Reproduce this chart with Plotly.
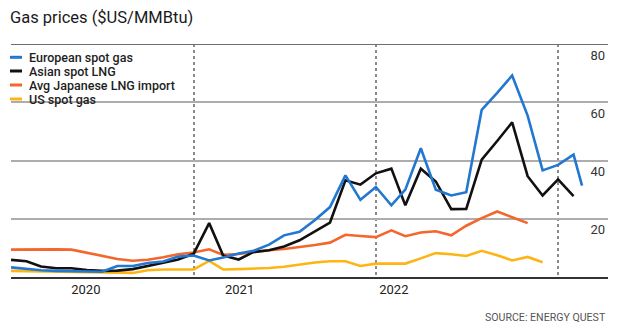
import pandas as pd
import plotly.graph_objects as go

# Monthly observations, first of each month from Jan 2020
months = pd.date_range("2020-01-01", periods=38, freq="MS")

european_spot_gas = [3.3, 2.7, 2.3, 2.1, 2.0, 1.7, 1.8, 3.8, 3.8, 4.8, 5.3, 7.0,
                     7.4, 5.7, 6.7, 8.1, 9.0, 11.1, 14.3, 15.5, 19.6, 24.0, 34.9, 26.5,
                     30.9, 24.6, 30.0, 44.2, 30.0, 28.0, 29.1, 57.4, 63.2, 69.2, 55.4, 36.6,
                     38.5, 42.0, 31.4]
european_dates = list(months) + [pd.Timestamp("2023-02-18")]

asian_spot_lng = [5.9, 5.4, 3.6, 3.0, 3.0, 2.4, 2.1, 2.2, 2.7, 3.9, 4.9, 6.0,
                  8.0, 18.5, 7.4, 6.0, 8.6, 9.2, 10.5, 12.6, 15.6, 18.7, 33.2, 31.7,
                  35.6, 37.2, 24.6, 37.2, 32.8, 23.3, 23.4, 40.3, 46.7, 53.1, 34.6, 28.0,
                  33.5, 27.8]

japanese_lng_import = [9.4, 9.5, 9.6, 9.5, 9.4, 8.4, 7.2, 6.2, 5.6, 5.9, 6.8, 7.8,
                       8.4, 9.5, 7.6, 7.9, 8.5, 9.2, 9.6, 10.2, 11.0, 11.8, 14.5, 14.1,
                       13.7, 16.0, 14.0, 15.3, 15.7, 14.3, 17.6, 20.2, 22.5, 20.5, 18.5]

us_spot_gas = [2.1, 2.0, 1.9, 1.8, 1.8, 1.7, 1.7, 1.5, 1.4, 2.3, 2.6, 2.6,
               2.6, 5.5, 2.6, 2.7, 2.8, 3.1, 3.5, 4.2, 5.0, 5.4, 5.4, 3.8,
               4.6, 4.6, 4.6, 6.4, 8.2, 7.8, 7.2, 9.0, 7.5, 5.7, 6.9, 5.1]

series = [
    ("European spot gas", european_dates, european_spot_gas, "#2277d0"),
    ("Asian spot LNG", list(months), asian_spot_lng, "#111111"),
    ("Avg Japanese LNG import", list(months[:len(japanese_lng_import)]), japanese_lng_import, "#f4662c"),
    ("US spot gas", list(months[:len(us_spot_gas)]), us_spot_gas, "#fdb515"),
]

year_boundaries = ["2020-01-01", "2021-01-01", "2022-01-01", "2023-01-01"]
year_label_dates = ["2020-05-30", "2021-04-03", "2022-02-06"]
year_labels = ["2020", "2021", "2022"]
y_ticks = [20, 40, 60, 80]

W, H = 620, 332
ML, MR, MT, MB = 11, 12, 44, 55
PW, PH = W - ML - MR, H - MT - MB


def paper_x(px):
    return (px - ML) / PW


def paper_y(py):
    return (H - MB - py) / PH


fig = go.Figure()

# Draw order: US, Japanese, Asian, European (European on top)
for name, xs, ys, color in reversed(series):
    fig.add_trace(go.Scatter(x=xs, y=ys, name=name, mode="lines",
                             line=dict(color=color, width=2.6),
                             showlegend=False))

shapes = []
annotations = []

# White patch behind the key
shapes.append(dict(type="rect", xref="paper", yref="y",
                   x0=-0.03, x1=paper_x(105), y0=58.8, y1=79.2,
                   fillcolor="white", line=dict(width=0), layer="between"))

# Dark rule along the top
shapes.append(dict(type="line", xref="paper", yref="y", x0=0, x1=1, y0=80, y1=80,
                   line=dict(color="#6f6f6f", width=2), layer="above"))

# Key entries
key_rows = [57.3, 71, 85, 99]
for (name, _, _, color), ry in zip(series, key_rows):
    shapes.append(dict(type="line", xref="paper", yref="paper",
                       x0=paper_x(10), x1=paper_x(22), y0=paper_y(ry), y1=paper_y(ry),
                       line=dict(color=color, width=3), layer="above"))
    annotations.append(dict(text=name, xref="paper", yref="paper",
                            x=paper_x(27), y=paper_y(ry), xanchor="left", yanchor="middle",
                            showarrow=False,
                            font=dict(family="Roboto", size=12.5, color="#1e1e1e", weight=500)))

# Title
annotations.append(dict(text="Gas prices ($US/MMBtu)", xref="paper", yref="paper",
                        x=paper_x(8), y=paper_y(17), xanchor="left", yanchor="middle",
                        showarrow=False,
                        font=dict(family="Roboto", size=16.5, color="#1a1a1a")))

# Source line
annotations.append(dict(text="SOURCE: ENERGY QUEST", xref="paper", yref="paper",
                        x=1, y=paper_y(317.5), xanchor="right", yanchor="middle",
                        showarrow=False,
                        font=dict(family="Roboto", size=10.6, color="#555555")))

fig.update_layout(
    width=W, height=H,
    margin=dict(l=ML, r=MR, t=MT, b=MB, pad=0),
    paper_bgcolor="white", plot_bgcolor="white",
    showlegend=False,
    shapes=shapes, annotations=annotations,
    xaxis=dict(
        type="date", range=["2020-01-01", "2023-04-11"],
        showgrid=False, zeroline=False,
        tickmode="array", tickvals=year_label_dates, ticktext=year_labels,
        ticks="", tickfont=dict(family="Roboto", size=13, color="#222222"),
        showline=True, linecolor="#333333", linewidth=1.5,
        minor=dict(tickmode="array", tickvals=year_boundaries, showgrid=True,
                   gridcolor="#8a8a8a", griddash="dot", gridwidth=1.5, ticks=""),
    ),
    yaxis=dict(
        range=[0, 80], side="right",
        tickmode="array", tickvals=y_ticks, ticks="",
        ticklabelposition="inside", ticklabelshift=11, ticklabelstandoff=0,
        tickfont=dict(family="Roboto", size=13, color="#333333"),
        showgrid=True, gridcolor="#adadad", gridwidth=1.5,
        zeroline=False, showline=False,
    ),
)

fig.write_html("out.html")
